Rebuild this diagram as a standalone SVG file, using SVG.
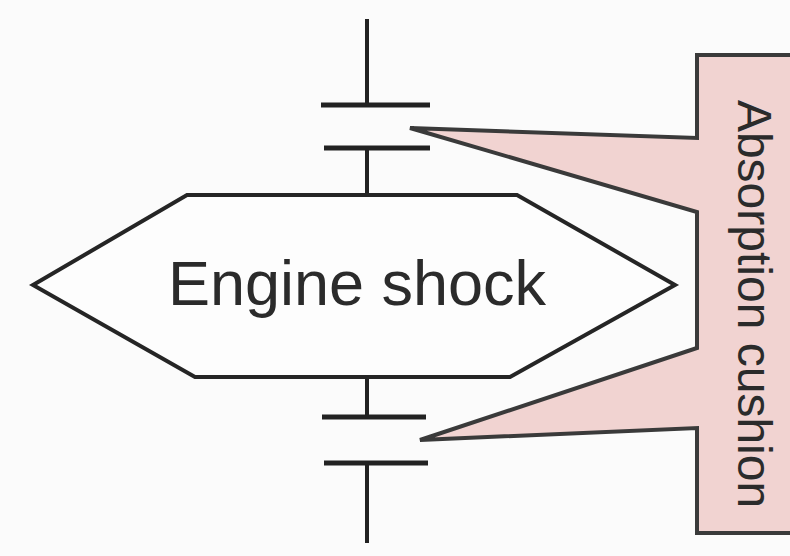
<svg xmlns="http://www.w3.org/2000/svg" width="790" height="556" viewBox="0 0 790 556">
<style>
.ln{stroke:#222;stroke-width:4;fill:none;stroke-linecap:butt}
.bar{stroke:#222;stroke-width:5;fill:none}
.hex{fill:#fdfdfd;stroke:#252525;stroke-width:4;stroke-linejoin:miter}
.cal{fill:#f1d3d1;stroke:#3a3a3a;stroke-width:4;stroke-linejoin:miter}
.t{font-family:"Liberation Sans",Arial,sans-serif;fill:#2b2b2b}
</style>
<rect width="790" height="556" fill="#fbfbfb"/>
<g id="connectors">
<line class="ln" x1="367" y1="19" x2="367" y2="105"/>
<line class="bar" x1="321" y1="105" x2="430" y2="105"/>
<line class="bar" x1="324" y1="148" x2="430" y2="148"/>
<line class="ln" x1="367" y1="148" x2="367" y2="195"/>
<line class="ln" x1="367" y1="377" x2="367" y2="417"/>
<line class="bar" x1="322" y1="417" x2="426" y2="417"/>
<line class="bar" x1="324" y1="463" x2="428" y2="463"/>
<line class="ln" x1="367" y1="463" x2="367" y2="543"/>
</g>
<g id="engine-shock">
<polygon class="hex" points="33,285 187,195 517,195 675,285 510,377 195,377"/>
<text class="t" x="357" y="305" font-size="63" text-anchor="middle">Engine shock</text>
</g>
<g id="absorption-cushion">
<polygon class="cal" points="800,55 697,55 697,138 410,128 697,212 697,348 420,440 697,428 697,533 800,533"/>
<text class="t" transform="translate(738,304) rotate(90)" font-size="48" text-anchor="middle">Absorption cushion</text>
</g>
</svg>
